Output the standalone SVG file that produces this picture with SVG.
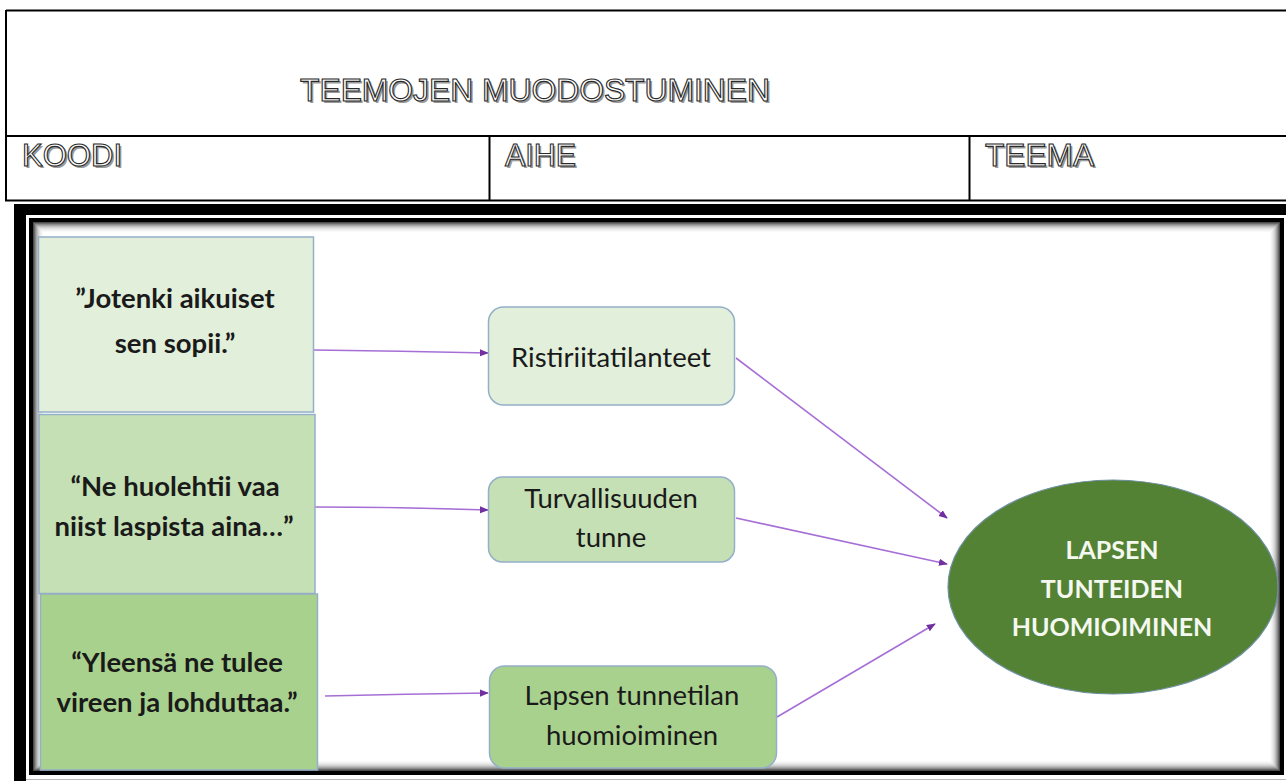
<svg xmlns="http://www.w3.org/2000/svg" width="1286" height="781" viewBox="0 0 1286 781">
  <style>
    .hdr { font-family: "Liberation Sans", Arial, sans-serif; font-size: 31px; }
    .hdr-sh { fill: #9a9a9a; }
    .hdr-tx { fill: #ffffff; stroke: #2a2a2a; stroke-width: 1.1px; }
    .tbl { stroke: #000; stroke-width: 2; fill: none; }
    .quote { font-family: Lato, "Open Sans", sans-serif; font-weight: bold; font-size: 27.5px; fill: #1a1a1a; text-anchor: middle; }
    .topic { font-family: Lato, "Open Sans", sans-serif; font-size: 27.5px; fill: #1a1a1a; text-anchor: middle; }
    .theme { font-family: Lato, "Open Sans", sans-serif; font-weight: bold; font-size: 25px; fill: #f4f8f0; text-anchor: middle; }
    .conn { stroke: #a66fd6; stroke-width: 1.6; fill: none; marker-end: url(#arr); }
    .b1 { fill: #e2efda; }
    .b2 { fill: #c5e0b4; }
    .b3 { fill: #a9d18e; }
    .bs { stroke: #94afc8; stroke-width: 1.5; }
  </style>
  <defs>
    <marker id="arr" viewBox="0 0 10 10" refX="9" refY="5" markerWidth="9" markerHeight="9" markerUnits="userSpaceOnUse" orient="auto">
      <path d="M0,1 L10,5 L0,9 Z" fill="#7030a0"/>
    </marker>
  </defs>

  <rect x="0" y="0" width="1286" height="781" fill="#ffffff"/>

  <!-- table header -->
  <g id="table">
    <path class="tbl" d="M6,10.5 H1286 M6,10 V201 M5,136 H1286 M5,200.5 H1286 M489.5,136 V200 M969.5,136 V200"/>
    <g id="title">
      <text class="hdr hdr-sh" x="302" y="103" textLength="470" lengthAdjust="spacingAndGlyphs">TEEMOJEN MUODOSTUMINEN</text>
      <text class="hdr hdr-tx" x="300" y="101" textLength="470" lengthAdjust="spacingAndGlyphs">TEEMOJEN MUODOSTUMINEN</text>
    </g>
    <g id="col-koodi">
      <text class="hdr hdr-sh" x="24" y="168" textLength="100" lengthAdjust="spacingAndGlyphs">KOODI</text>
      <text class="hdr hdr-tx" x="22" y="166" textLength="100" lengthAdjust="spacingAndGlyphs">KOODI</text>
    </g>
    <g id="col-aihe">
      <text class="hdr hdr-sh" x="507" y="168" textLength="71" lengthAdjust="spacingAndGlyphs">AIHE</text>
      <text class="hdr hdr-tx" x="505" y="166" textLength="71" lengthAdjust="spacingAndGlyphs">AIHE</text>
    </g>
    <g id="col-teema">
      <text class="hdr hdr-sh" x="987" y="168" textLength="109" lengthAdjust="spacingAndGlyphs">TEEMA</text>
      <text class="hdr hdr-tx" x="985" y="166" textLength="109" lengthAdjust="spacingAndGlyphs">TEEMA</text>
    </g>
  </g>

  <!-- picture frame -->
  <g id="frame">
    <rect x="14" y="204" width="1272" height="11" fill="#000"/>
    <rect x="14" y="204" width="12" height="577" fill="#000"/>
    <line x1="26" y1="779.5" x2="1286" y2="779.5" stroke="#b8b8b8" stroke-width="1"/>
    <rect x="31" y="220" width="1251" height="553" fill="#ffffff" stroke="#000" stroke-width="4"/>
    <g fill="none" stroke-width="1">
      <rect x="33.5" y="222.5" width="1246" height="548" stroke="#4a4a4a"/>
      <rect x="34.5" y="223.5" width="1244" height="546" stroke="#6a6a6a"/>
      <rect x="35.5" y="224.5" width="1242" height="544" stroke="#8a8a8a"/>
      <rect x="36.5" y="225.5" width="1240" height="542" stroke="#a5a5a5"/>
      <rect x="37.5" y="226.5" width="1238" height="540" stroke="#bdbdbd"/>
      <rect x="38.5" y="227.5" width="1236" height="538" stroke="#d0d0d0"/>
      <rect x="39.5" y="228.5" width="1234" height="536" stroke="#dfdfdf"/>
      <rect x="40.5" y="229.5" width="1232" height="534" stroke="#eaeaea"/>
      <rect x="41.5" y="230.5" width="1230" height="532" stroke="#f3f3f3"/>
      <rect x="42.5" y="231.5" width="1228" height="530" stroke="#f9f9f9"/>
    </g>
  </g>

  <!-- connectors -->
  <g id="connectors">
    <path class="conn" d="M314,350 Q400,351 488,353"/>
    <path class="conn" d="M315,507 Q400,507 488,510"/>
    <path class="conn" d="M325,696 Q405,694 488,693"/>
    <path class="conn" d="M736,358 L947,518"/>
    <path class="conn" d="M736,518 L947,564"/>
    <path class="conn" d="M777,717 L935,624"/>
  </g>

  <!-- code boxes -->
  <g id="code1">
    <rect class="b1 bs" x="38.5" y="237" width="275" height="175"/>
    <text class="quote" x="175" y="308">”Jotenki aikuiset</text>
    <text class="quote" x="175" y="353">sen sopii.”</text>
  </g>
  <g id="code2">
    <rect class="b2 bs" x="39" y="414.5" width="276" height="179"/>
    <text class="quote" x="175" y="496">“Ne huolehtii vaa</text>
    <text class="quote" x="174" y="536">niist laspista aina…”</text>
  </g>
  <g id="code3">
    <rect class="b3 bs" x="40.5" y="594" width="277" height="176"/>
    <text class="quote" x="177" y="672">“Yleensä ne tulee</text>
    <text class="quote" x="177" y="712">vireen ja lohduttaa.”</text>
  </g>

  <!-- topic boxes -->
  <g id="topic1">
    <rect class="b1 bs" x="488.5" y="307" width="246" height="98" rx="15"/>
    <text class="topic" x="611" y="367">Ristiriitatilanteet</text>
  </g>
  <g id="topic2">
    <rect class="b2 bs" x="488.5" y="477" width="246" height="85" rx="14"/>
    <text class="topic" x="611" y="508">Turvallisuuden</text>
    <text class="topic" x="611" y="547">tunne</text>
  </g>
  <g id="topic3">
    <rect class="b3 bs" x="489.5" y="666" width="287" height="102" rx="15"/>
    <text class="topic" x="632" y="705">Lapsen tunnetilan</text>
    <text class="topic" x="632" y="745">huomioiminen</text>
  </g>

  <!-- theme -->
  <g id="theme">
    <ellipse cx="1113" cy="587" rx="165" ry="107" fill="#548235" stroke="#6d8fa0" stroke-width="1.2"/>
    <text class="theme" x="1112" y="559">LAPSEN</text>
    <text class="theme" x="1112" y="598">TUNTEIDEN</text>
    <text class="theme" x="1112" y="636">HUOMIOIMINEN</text>
  </g>
</svg>
